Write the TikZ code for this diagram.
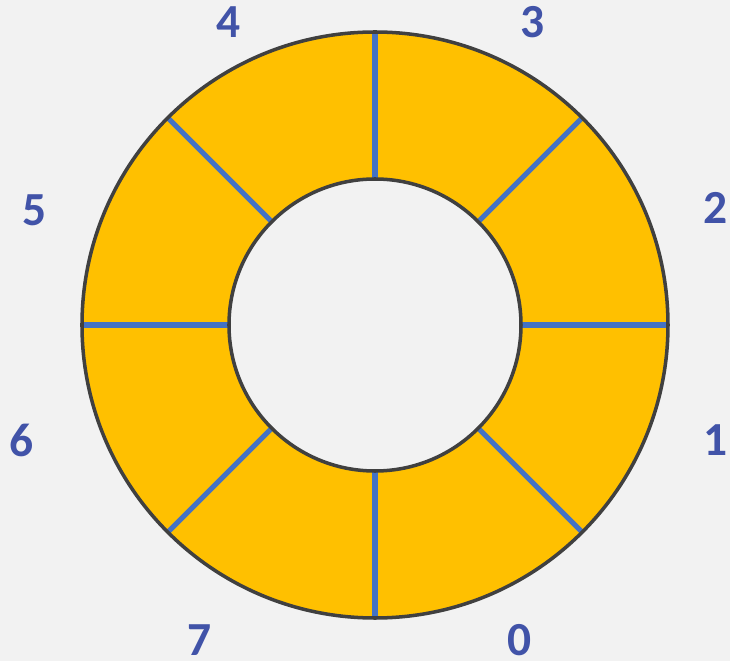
\documentclass[tikz,border=0pt]{standalone}
\usepackage{fontspec}
\setmainfont{Carlito}
\definecolor{bggray}{RGB}{242,242,242}
\definecolor{ringgold}{RGB}{255,192,0}
\definecolor{spokeblue}{RGB}{68,114,196}
\definecolor{rimgray}{RGB}{64,64,64}
\definecolor{numblue}{RGB}{65,83,168}
\tikzset{
  ring/.style = {fill=ringgold, even odd rule},
  rim/.style = {draw=rimgray, line width=2pt},
  spoke/.style = {draw=spokeblue, line width=3pt},
  slot/.style = {font=\fontsize{27}{30}\selectfont\bfseries, text=numblue, inner sep=0pt}
}

\begin{document}
\begin{tikzpicture}

    % ------------------------------------------------------------- Canvas
    \fill [bggray] (-7.5,-6.72) rectangle (7.1,6.5);
    \useasboundingbox (-7.5,-6.72) rectangle (7.1,6.5);

    % --------------------------------------------------------------- Ring
    \coordinate (hub) at (0,0);
    \fill [ring] (hub) circle (5.86) (hub) circle (2.92);

    % ------------------------------------------------------------- Spokes
    \foreach \a in {0,45,...,315} {
      \coordinate (in\a)  at (\a:2.92);
      \coordinate (out\a) at (\a:5.86);
      \draw [spoke] (in\a) -- (out\a);
    }

    % --------------------------------------------------------------- Rims
    \draw [rim] (hub) circle (5.86);
    \draw [rim] (hub) circle (2.92);

    % ------------------------------------------------------------- Labels
    \node [slot] (n0) at ( 2.90, -6.30) {0};
    \node [slot] (n1) at ( 6.82, -2.30) {1};
    \node [slot] (n2) at ( 6.82,  2.34) {2};
    \node [slot] (n3) at ( 3.16,  6.06) {3};
    \node [slot] (n4) at (-2.92,  6.06) {4};
    \node [slot] (n5) at (-6.80,  2.30) {5};
    \node [slot] (n6) at (-7.06, -2.30) {6};
    \node [slot] (n7) at (-3.50, -6.30) {7};

\end{tikzpicture}
\end{document}
